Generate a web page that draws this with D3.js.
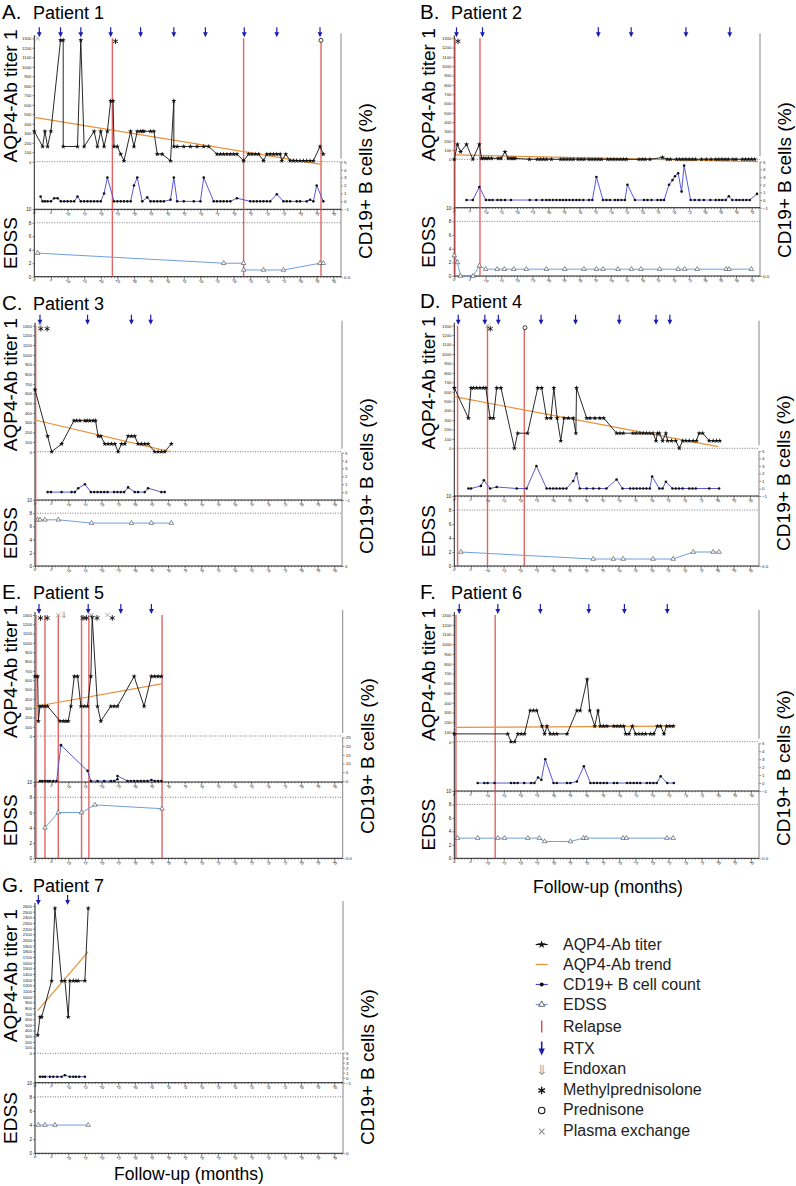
<!DOCTYPE html>
<html><head><meta charset="utf-8">
<script src="https://cdn.jsdelivr.net/npm/d3@7"></script>
<style>body{margin:0;background:#fff}svg{display:block}</style>
</head><body>
<svg id="chart" width="796" height="1186"></svg>
<script>
// ---------------- DATA ----------------
const titerLabel = "AQP4-Ab titer 1", edssLabel = "EDSS", cdLabel = "CD19+ B cells (%)", xLabel = "Follow-up (months)";
const legendLabels = ["AQP4-Ab titer","AQP4-Ab trend","CD19+ B cell count","EDSS","Relapse","RTX","Endoxan","Methylprednisolone","Prednisone","Plasma exchange"];
const edssTicks = [0,2,4,6,8,10];
const cdTicksSmall = [-1,0,1,2,3,4,5];
const cdTicksLarge = [0,5,10,15,20,25];

// Patient 1
const p1Titer = [[0,320],[2.5,160],[3.2,320],[4,160],[5,320],[7.9,1280],[8.7,1280],[8.7,160],[13,160],[14,1280],[15,160],[18,320],[19,160],[20,320],[21,160],[22,320],[23,640],[23.7,640],[24,160],[25,160],[26,80],[27,10],[29,320],[30,160],[31,320],[32,320],[32.5,320],[33,320],[35,320],[36,320],[37,80],[38.5,80],[41,10],[42,640],[42,160],[43,160],[45,160],[47,160],[49,160],[51,160],[52.5,160],[55,80],[56,80],[57,80],[58,80],[59,80],[60,80],[61,80],[63,10],[64.5,80],[65.5,80],[66.5,80],[67.5,80],[69,10],[70,80],[71,80],[72,80],[73,80],[74,80],[74.5,10],[75.7,80],[77,10],[78,10],[79,10],[80,10],[81,10],[82,10],[83,10],[84,10],[86,160],[87,80]];
const p1CD19 = [[1.9,0.6],[2.5,0],[3.2,0],[4,0],[5,0],[6,0.4],[7,0.4],[8,0],[9,0],[10,0],[11,0],[12,0],[13,0.6],[14,0],[15,0],[16,0],[17,0],[18,0],[19,0],[20,0],[21,1],[22,3],[24,0],[25,0],[26,0],[27,0],[28,0],[29,0],[30,2],[31,3],[32.5,0],[34,0.5],[35,0],[36,0],[37,0],[38,0],[39,0],[41,0.2],[42,3],[43,0],[45,0],[48,0],[50,0],[51,3],[54,0],[55,0],[56,0],[57,0],[58,0],[59,0],[61,0.4],[65,0],[66,0],[67,0],[68,0],[69,0],[70,0],[71,0],[73,0.9],[75,0],[76,0],[77,0],[79,0],[80,0],[82,0],[83,0.2],[84,0],[85,2],[87,0]];
const p1EDSS = [[1,3.5],[57,2],[63,2],[63,1],[69,1],[75,1],[86,2],[87,2]];
const p1Trend = [[0,467],[86.3,-28]];
const p1RTX = [1.5,7.9,14,23,32,42,51.5,63.2,73,86];
const p1Relapse = [23.5,63,86.3];
const p1MP = [24], p1Pred = [86.3], p1PE = [1], p1Endo = [];

// Patient 2
const p2Titer = [[0,0],[1,160],[2,80],[3.9,160],[5.9,0],[8,160],[8.7,10],[9.3,10],[10.1,10],[10.9,10],[11.9,10],[14,10],[14.9,10],[16.2,80],[17.2,10],[18.1,10],[18.8,10],[19.4,10],[24,0],[26.5,0],[27.5,0],[28.5,0],[29.5,0],[31,0],[34,0],[35,0],[36,0],[37,0],[38,0],[39.5,0],[40.5,0],[41.5,0],[43,0],[44,0],[45,0],[46,0],[47,0],[49,0],[50,0],[51,0],[52,0],[53,0],[54,0],[55,0],[59,0],[60,0],[61,0],[62.5,0],[66.5,20],[68,0],[69,0],[71,0],[72,0],[73,0],[74,0],[75,0],[76,0],[77,0],[79,0],[80.5,0],[82,0],[83.5,0],[84.5,0],[85.5,0],[86.5,0],[87.5,0],[89,0],[90,0],[92,0],[93,0],[94,0],[95,0],[96,0]];
const p2CD19 = [[3.9,0],[5.9,0],[8,1.7],[10.1,0],[11.2,0],[12.2,0],[13.8,0],[14.9,0],[16.2,0],[18.1,0],[24.1,0],[26.2,0],[28.1,0],[29.4,0],[30.4,0],[31.5,0],[32.6,0],[33.7,0],[34.7,0],[35.7,0],[36.8,0],[37.9,0],[39,0],[40,0],[41.2,0],[43,0],[44.1,0],[45.4,3],[47.5,0],[48.6,0],[49.7,0],[51.3,0],[52.3,0],[53.4,0],[54.5,0],[55.3,2],[57.7,0],[60.6,0],[61.7,0],[63,0],[64.9,0],[66,0],[67,0],[68.6,2],[69.7,2.6],[70.5,3.1],[71.5,3.5],[72.6,1.1],[73.4,4.5],[75.5,0],[76.8,0],[78.2,0],[79.7,0],[81.8,0],[83.5,0],[84.6,0],[85.6,0],[86.7,0],[87.7,0.5],[88.8,0],[90.1,0],[91.1,0],[92.2,0],[93.3,0],[94.4,0],[96.7,0.8]];
const p2EDSS = [[0,3],[1,2],[2,0],[6,0],[8,1.5],[10,1],[13.7,1],[16,1],[19,1],[23,1],[29.4,1],[35.3,1],[41.4,1],[45.4,1],[47.5,1],[52.3,1],[56.6,1],[59.6,1],[65.6,1],[71.5,1],[73.6,1],[77.6,1],[86.9,1],[87.8,1],[94.9,1]];
const p2Trend = [[0,47],[97,-25]];
const p2RTX = [0.7,9,46,56.5,74,88];
const p2Relapse = [0.2,8.2];
const p2MP = [0.7], p2Pred = [], p2PE = [], p2Endo = [];

// Patient 3
const p3Titer = [[0,640],[3.8,160],[5,0],[8,80],[11.7,320],[12.5,320],[13.5,320],[15,320],[15.7,320],[16.5,320],[17.5,320],[18.2,320],[19,160],[19.8,160],[21,80],[22,80],[23,80],[24,80],[25,0],[26,80],[27,80],[28,160],[29,160],[30,160],[31,80],[32,80],[33,80],[34,80],[36,0],[37,0],[38,0],[39,0],[41,80]];
const p3CD19 = [[3.8,0],[4.8,0],[8,0],[11,0],[12,0],[13,0.5],[15,1],[16.8,0],[17.8,0],[18.8,0],[19.8,0],[20.8,0],[21.8,0],[23.8,0],[24.8,0],[25.8,0],[26.8,0],[28,0.6],[30,0],[31,0],[33,0],[34,0.5],[38,0],[39,0]];
const p3EDSS = [[0.8,7],[1.5,7],[3,7],[7,7],[17,6.5],[29,6.5],[35,6.5],[41,6.5]];
const p3Trend = [[0,327],[40.5,0]];
const p3RTX = [1.5,15.8,29,34.8];
const p3Relapse = [0.2];
const p3MP = [1.3,3.2], p3Pred = [], p3PE = [1.5], p3Endo = [];

// Patient 4
const p4Titer = [[0,640],[4.3,320],[5.1,640],[5.8,640],[6.8,640],[7.8,640],[8.8,640],[9.6,640],[10.9,320],[11.9,320],[12.9,640],[14.2,640],[18.3,0],[19.3,160],[22.3,160],[25.4,640],[26.6,640],[28.1,320],[29.4,320],[30.3,640],[31.3,320],[32.4,80],[33.4,320],[34.7,320],[36.2,320],[37,160],[37.2,640],[40.3,320],[41.3,320],[42.8,320],[44.3,320],[45.5,320],[49.4,160],[50.4,160],[51.4,160],[54.4,160],[55.4,160],[56.5,160],[57.5,160],[58.5,160],[59.5,160],[60.5,160],[61.4,80],[61.8,160],[62.4,160],[63.4,80],[64.4,160],[64.9,80],[66.1,80],[67.4,80],[68.5,0],[69.5,80],[70.5,80],[71.5,80],[72.7,80],[73.7,80],[74.5,160],[75.6,160],[77.6,80],[78.8,80],[79.8,80],[80.8,80]];
const p4CD19 = [[4.3,0],[5.1,0],[8.1,0.35],[9,1.1],[10.9,0],[12.9,0.2],[19,0],[22,0],[25,3],[28.1,0],[29.1,0],[30.1,0],[31.1,0],[32.1,0],[33.1,0],[34.1,0],[36.2,1],[37.2,2],[38.2,0],[40.3,0],[42.3,0],[44.1,0],[46.3,0],[49.4,1.2],[51.2,0],[53.5,0],[54.5,0],[55.5,0],[56.5,0],[57.5,0],[58.5,0],[59.5,0],[60.2,1.6],[62.4,0],[63.4,0],[64.4,0.9],[66.4,0],[67.4,0],[68.4,0],[69.5,0],[71.5,0],[72.5,0],[73.5,0],[77.6,0],[80.6,0]];
const p4EDSS = [[2,2],[42.3,1],[48.4,1],[51.4,1],[60.5,1],[66.6,1],[72.7,2],[78.8,2],[80.6,2]];
const p4Trend = [[0,547],[80.3,18]];
const p4RTX = [1.2,9.3,13.4,26.4,36.9,50.2,61.4,65.6];
const p4Relapse = [1,10.1,21.3];
const p4MP = [10.5], p4Pred = [21.5], p4PE = [10.2], p4Endo = [];

// Patient 5
const p5Titer = [[0,640],[0.8,640],[1,160],[1.5,320],[2.2,320],[3,320],[3.8,320],[7.5,160],[8.5,160],[9.3,160],[10,160],[10.8,320],[11.8,640],[12.8,640],[13.8,320],[14.8,320],[15.8,320],[16.8,640],[17.2,1280],[18.8,320],[19.8,160],[22.8,320],[23.8,320],[24.8,320],[29.8,640],[32.8,320],[35,640],[36,640],[37,640],[38,640]];
const p5CD19 = [[1.5,0],[2.2,0],[3,0],[3.8,0],[4.5,0],[5.5,0],[6.5,0],[7.8,20.5],[15.8,5.8],[16.8,0],[18.8,0],[20.8,0],[22.8,0],[23.8,0],[24.8,1],[24.8,2.9],[27.8,0],[28.8,0],[29.8,0],[30.8,0],[31.8,0],[32.8,0],[33.8,0],[35,0.6],[36,0],[37,0],[38,0]];
const p5EDSS = [[3,4],[7,6],[14,6],[18,7],[38.2,6.5]];
const p5Trend = [[0,317],[38,560]];
const p5RTX = [1.2,16,25.8,35];
const p5Relapse = [0.3,3,7,14,16.2,38.2];
const p5MP = [1.2,3.2,14,15,18.2,22.8], p5Pred = [], p5PE = [7,16.8,21.8], p5Endo = [8.8];

// Patient 6
const p6Titer = [[0,80],[16.2,80],[17.2,0],[18.3,0],[19.3,80],[20.3,80],[21.3,80],[23,320],[24,320],[25,320],[26.6,160],[27.4,80],[28.1,160],[29.1,80],[30.1,80],[31.1,80],[34.2,80],[37.2,320],[38.2,320],[40.3,640],[41.1,320],[42.6,160],[43.6,320],[44.3,160],[45.3,160],[46.3,160],[48.4,160],[49.4,160],[50.4,160],[51.4,160],[52,80],[53,80],[54,160],[55,80],[56,80],[57,80],[58,80],[59.5,80],[60.5,80],[61.6,160],[62.6,160],[63.6,80],[64.4,160],[65.4,160],[66.4,160]];
const p6CD19 = [[7.1,0],[9.1,0],[10.1,0],[12.2,0],[17.2,0],[18.2,0],[19.2,0],[21.2,0],[23.3,0],[24.3,0],[25.4,0.7],[26.4,0.4],[27.6,3],[30.1,0],[31.1,0],[34.2,0],[35.2,0],[37.2,0.2],[39.3,2.1],[41.3,0],[42.3,0],[43.3,0],[44.3,0],[45.3,0],[46.3,0],[48.4,0],[49.4,0],[52.4,0],[53.4,0],[54.4,0],[55.4,0],[56.4,0],[58.4,0],[59.4,0],[60.4,0],[61.4,0],[62.6,0.85],[64.6,0],[66.6,0]];
const p6EDSS = [[1,3],[7.1,3],[13.2,3],[15.2,3],[22.3,3],[25.8,3],[27.4,2.5],[35.2,2.5],[39.2,3],[40,3],[51.2,3],[52.2,3],[64.5,3],[66.4,3]];
const p6Trend = [[0,146],[67,160]];
const p6RTX = [1.5,13.2,26.1,40.8,51.6,64.6];
const p6Relapse = [0.5,12.4];
const p6MP = [], p6Pred = [], p6PE = [], p6Endo = [];

// Patient 7
const p7Titer = [[0.8,320],[1.5,640],[2,640],[5,1280],[6,2560],[8,1280],[9,1280],[10,640],[10.5,1280],[11.5,1280],[12.3,1280],[13,1280],[15,1280],[16,2560]];
const p7CD19 = [[1.5,0.2],[2.3,0.2],[3,0.2],[4.5,0.2],[5.5,0.2],[6.7,0.2],[8,0.2],[9,0.5],[10.5,0.2],[11.5,0.2],[12.3,0.2],[13.3,0.2],[15,0.2]];
const p7EDSS = [[1,4],[3,4],[6,4],[16,4]];
const p7Trend = [[0.8,753],[16,1793]];
const p7RTX = [1,9.8];
const p7Relapse = [];
const p7MP = [], p7Pred = [], p7PE = [], p7Endo = [];

// ---------------- LAYOUT ----------------
const FONT = "'Liberation Sans', Arial, Helvetica, sans-serif";
const panels = [
  {letter:"A.", name:"Patient 1", titer:p1Titer, cd:p1CD19, edss:p1EDSS, trend:p1Trend, rtx:p1RTX, relapse:p1Relapse, mp:p1MP, pred:p1Pred, pe:p1PE, endo:p1Endo,
   L:{xLab:90,x0:34.3,x1:333.3,right:341,tMax:1300,tTop:38.3,t0:161.7,cDom:[-1,5],cTicks:cdTicksSmall,cTop:161.7,cBot:209.3,eTop:209.3,e0:276.7,tx:2,ty:19,cdLabY:181,zero:"0.0"}},
  {letter:"B.", name:"Patient 2", titer:p2Titer, cd:p2CD19, edss:p2EDSS, trend:p2Trend, rtx:p2RTX, relapse:p2Relapse, mp:p2MP, pred:p2Pred, pe:p2PE, endo:p2Endo,
   L:{xLab:95,x0:454.3,x1:751.7,right:760,tMax:1300,tTop:38.3,t0:159.3,cDom:[-1,5],cTicks:cdTicksSmall,cTop:161.7,cBot:207.7,eTop:207.7,e0:276,tx:420,ty:19,cdLabY:180,zero:"0.0"}},
  {letter:"C.", name:"Patient 3", titer:p3Titer, cd:p3CD19, edss:p3EDSS, trend:p3Trend, rtx:p3RTX, relapse:p3Relapse, mp:p3MP, pred:p3Pred, pe:p3PE, endo:p3Endo,
   L:{xLab:90,x0:35,x1:334.3,right:342,tMax:1300,tTop:325.7,t0:451.7,cDom:[-1,5],cTicks:cdTicksSmall,cTop:452.7,cBot:500,eTop:500,e0:566,tx:2,ty:310,cdLabY:476,zero:"0"}},
  {letter:"D.", name:"Patient 4", titer:p4Titer, cd:p4CD19, edss:p4EDSS, trend:p4Trend, rtx:p4RTX, relapse:p4Relapse, mp:p4MP, pred:p4Pred, pe:p4PE, endo:p4Endo,
   L:{xLab:90,x0:454.3,x1:750,right:759,tMax:1300,tTop:325.7,t0:448.3,cDom:[-1,5],cTicks:cdTicksSmall,cTop:451,cBot:496,eTop:496,e0:566,tx:420,ty:308,cdLabY:473,zero:"0.0"}},
  {letter:"E.", name:"Patient 5", titer:p5Titer, cd:p5CD19, edss:p5EDSS, trend:p5Trend, rtx:p5RTX, relapse:p5Relapse, mp:p5MP, pred:p5Pred, pe:p5PE, endo:p5Endo,
   L:{xLab:90,x0:35,x1:334.3,right:342.7,tMax:1300,tTop:615,t0:736,cDom:[0,25],cTicks:cdTicksLarge,cTop:737.3,cBot:781,eTop:782,e0:858.3,tx:2,ty:599,cdLabY:756,zero:"0.0"}},
  {letter:"F.", name:"Patient 6", titer:p6Titer, cd:p6CD19, edss:p6EDSS, trend:p6Trend, rtx:p6RTX, relapse:p6Relapse, mp:p6MP, pred:p6Pred, pe:p6PE, endo:p6Endo,
   L:{xLab:90,x0:454.3,x1:751,right:759,tMax:1300,tTop:615,t0:741.7,cDom:[-1,5],cTicks:cdTicksSmall,cTop:743.3,cBot:791,eTop:791,e0:858.3,tx:420,ty:599,cdLabY:768,zero:"0.0",xTitle:[608,893]}},
  {letter:"G.", name:"Patient 7", titer:p7Titer, cd:p7CD19, edss:p7EDSS, trend:p7Trend, rtx:p7RTX, relapse:p7Relapse, mp:p7MP, pred:p7Pred, pe:p7PE, endo:p7Endo,
   L:{xLab:90,x0:35,x1:334.3,right:343,tMax:2600,tTop:906,t0:1053.3,cDom:[-1,5],cTicks:cdTicksSmall,cTop:1052.7,cBot:1082.7,eTop:1082.7,e0:1153.3,tx:2,ty:892,cdLabY:1067,zero:"0",xTitle:[189,1180]}}
];

const C = {titer:"#111", trend:"#e8913a", cd:"#4646d8", edss:"#6f9fe0", relapse:"#dd4a4a", rtx:"#1c1cb0", axis:"#222", raxis:"#888", dot:"#555"};
const fmt = d3.format("d");

const svg = d3.select("#chart").attr("font-family", FONT);

const starPath = d3.symbol().type(d3.symbolStar).size(8)();
const triPath = d3.symbol().type(d3.symbolTriangle).size(9)();
const astPath = d3.symbol().type(d3.symbolAsterisk).size(22)();
const timesPath = d3.symbol().type(d3.symbolTimes).size(16)();

function styleAxis(a, fs) {
  a.attr("font-family", FONT).attr("font-size", fs);
  a.select(".domain").remove();
  a.selectAll(".tick line").attr("stroke", C.axis).attr("stroke-width", 0.5);
  a.selectAll("text").attr("fill", "#222");
}

function drawPanel(p) {
  const L = p.L;
  const g = svg.append("g");
  const x = d3.scaleLinear().domain([0, L.xLab]).range([L.x0, L.x1]);
  const xEnd = x.invert(L.right);
  const yT = d3.scaleLinear().domain([0, L.tMax]).range([L.t0, L.tTop]);
  const yC = d3.scaleLinear().domain(L.cDom).range([L.cBot, L.cTop]);
  const yE = d3.scaleLinear().domain([0, 10]).range([L.e0, L.eTop]);

  // Titles
  g.append("text").attr("x", L.tx).attr("y", L.ty).attr("font-size", 20.5).text(p.letter);
  g.append("text").attr("x", L.tx + 31).attr("y", L.ty).attr("font-size", 18).text(p.name);

  // Axis titles
  g.append("text").attr("transform", `translate(${L.tx + 15},${(L.tTop + L.t0) / 2 - 4}) rotate(-90)`)
    .attr("text-anchor", "middle").attr("font-size", 19).text(titerLabel);
  g.append("text").attr("transform", `translate(${L.tx + 15},${(L.eTop + L.e0) / 2}) rotate(-90)`)
    .attr("text-anchor", "middle").attr("font-size", 19).text(edssLabel);
  g.append("text").attr("transform", `translate(${L.right + 31},${L.cdLabY}) rotate(-90)`)
    .attr("text-anchor", "middle").attr("font-size", 19).text(cdLabel);
  if (L.xTitle) g.append("text").attr("x", L.xTitle[0]).attr("y", L.xTitle[1]).attr("text-anchor", "middle").attr("font-size", 17.5).text(xLabel);

  // Left axes
  const aT = g.append("g").attr("transform", `translate(${L.x0},0)`)
    .call(d3.axisLeft(yT).tickValues(d3.range(0, L.tMax + 1, 100)).tickFormat(fmt).tickSize(2).tickPadding(1));
  styleAxis(aT, 4.2);
  const aE = g.append("g").attr("transform", `translate(${L.x0},0)`)
    .call(d3.axisLeft(yE).tickValues(edssTicks).tickFormat(fmt).tickSize(2).tickPadding(1));
  styleAxis(aE, 4.6);
  // Right axes
  const aC = g.append("g").attr("transform", `translate(${L.right},0)`)
    .call(d3.axisRight(yC).tickValues(L.cTicks).tickFormat(fmt).tickSize(2).tickPadding(1));
  styleAxis(aC, 4.4);
  const aZ = g.append("g").attr("transform", `translate(${L.right},0)`)
    .call(d3.axisRight(yE).tickValues([0]).tickFormat(() => L.zero).tickSize(2).tickPadding(1));
  styleAxis(aZ, 4.4);

  // Axis lines
  g.append("line").attr("x1", L.x0).attr("x2", L.x0).attr("y1", L.tTop - 3).attr("y2", L.e0).attr("stroke", C.axis).attr("stroke-width", 1);
  g.append("line").attr("x1", L.right).attr("x2", L.right).attr("y1", L.tTop - 5).attr("y2", L.t0 - 3).attr("stroke", C.raxis).attr("stroke-width", 1);
  g.append("line").attr("x1", L.right).attr("x2", L.right).attr("y1", L.cTop).attr("y2", L.e0).attr("stroke", C.raxis).attr("stroke-width", 1);

  // X axes (two)
  [L.eTop, L.e0].forEach(yy => {
    g.append("line").attr("x1", L.x0).attr("x2", L.right).attr("y1", yy).attr("y2", yy).attr("stroke", C.axis).attr("stroke-width", 1);
    const mn = g.append("g").attr("transform", `translate(0,${yy})`)
      .call(d3.axisBottom(x).tickValues(d3.range(0, xEnd, 1)).tickSize(1.3).tickFormat(""));
    styleAxis(mn, 4);
    const mj = g.append("g").attr("transform", `translate(0,${yy})`)
      .call(d3.axisBottom(x).tickValues(d3.range(0, L.xLab + 1, 5)).tickFormat(fmt).tickSize(2.2));
    styleAxis(mj, 4);
    mj.selectAll("text").attr("y", 3).attr("x", 1).attr("dy", "0.3em").attr("text-anchor", "start").attr("transform", "rotate(45)");
  });

  // Dotted reference lines
  [yT(0), yE(8)].forEach(yy => {
    g.append("line").attr("x1", L.x0).attr("x2", L.right).attr("y1", yy).attr("y2", yy)
      .attr("stroke", C.dot).attr("stroke-width", 0.8).attr("stroke-dasharray", "1,1.5");
  });

  // Relapse lines
  g.selectAll(".rel").data(p.relapse).join("line")
    .attr("x1", d => x(d)).attr("x2", d => x(d)).attr("y1", yT(L.tMax)).attr("y2", L.e0)
    .attr("stroke", C.relapse).attr("stroke-width", 1.4).attr("opacity", 0.85);

  // Trend
  g.append("path").datum(p.trend).attr("d", d3.line().x(d => x(d[0])).y(d => yT(d[1])))
    .attr("fill", "none").attr("stroke", C.trend).attr("stroke-width", 1.2);

  // Titer
  g.append("path").datum(p.titer).attr("d", d3.line().x(d => x(d[0])).y(d => yT(d[1])))
    .attr("fill", "none").attr("stroke", C.titer).attr("stroke-width", 0.9);
  g.selectAll(".tm").data(p.titer).join("path").attr("d", starPath)
    .attr("transform", d => `translate(${x(d[0])},${yT(d[1])})`).attr("fill", "#111");

  // CD19
  g.append("path").datum(p.cd).attr("d", d3.line().x(d => x(d[0])).y(d => yC(d[1])))
    .attr("fill", "none").attr("stroke", C.cd).attr("stroke-width", 0.9);
  g.selectAll(".cm").data(p.cd).join("circle").attr("cx", d => x(d[0])).attr("cy", d => yC(d[1]))
    .attr("r", 1.3).attr("fill", "#111");

  // EDSS
  g.append("path").datum(p.edss).attr("d", d3.line().x(d => x(d[0])).y(d => yE(d[1])))
    .attr("fill", "none").attr("stroke", C.edss).attr("stroke-width", 1);
  g.selectAll(".em").data(p.edss).join("path").attr("d", triPath)
    .attr("transform", d => `translate(${x(d[0])},${yE(d[1])})`).attr("fill", "#fff").attr("stroke", "#222").attr("stroke-width", 0.5);

  // RTX arrows
  const ay = L.tTop;
  p.rtx.forEach(m => {
    const ax = x(m);
    g.append("line").attr("x1", ax).attr("x2", ax).attr("y1", ay - 11).attr("y2", ay - 5).attr("stroke", C.rtx).attr("stroke-width", 1.2);
    g.append("path").attr("d", `M${ax - 2.4},${ay - 6}L${ax + 2.4},${ay - 6}L${ax},${ay - 1}Z`).attr("fill", C.rtx);
  });

  // Treatment markers
  const my = L.tTop + 3;
  p.mp.forEach(m => g.append("path").attr("d", astPath).attr("transform", `translate(${x(m) + 1.5},${my})`).attr("fill", "none").attr("stroke", "#111").attr("stroke-width", 0.9));
  p.pred.forEach(m => g.append("circle").attr("cx", x(m)).attr("cy", my - 1).attr("r", 2).attr("fill", "#fff").attr("stroke", "#111").attr("stroke-width", 0.8));
  p.pe.forEach(m => g.append("path").attr("d", timesPath).attr("transform", `translate(${x(m)},${my - 3})`).attr("fill", "none").attr("stroke", "#999").attr("stroke-width", 0.8));
  p.endo.forEach(m => g.append("text").attr("x", x(m)).attr("y", my).attr("text-anchor", "middle").attr("font-size", 9).attr("fill", "#999").text("\u21D3"));
}

panels.forEach(drawPanel);

// ---------------- LEGEND ----------------
const legY = [950, 970, 990, 1010, 1032, 1054, 1074, 1095, 1115, 1136];
const lx = 541.7, tx = 563;
const lg = svg.append("g");
legendLabels.forEach((t, i) => {
  lg.append("text").attr("x", tx).attr("y", legY[i]).attr("font-size", 16).attr("fill", "#222").text(t);
});
const cy = i => legY[i] - 5.5;
lg.append("line").attr("x1", lx - 6).attr("x2", lx + 6).attr("y1", cy(0)).attr("y2", cy(0)).attr("stroke", "#111").attr("stroke-width", 1.2);
lg.append("path").attr("d", d3.symbol().type(d3.symbolStar).size(20)()).attr("transform", `translate(${lx},${cy(0)})`).attr("fill", "#111");
lg.append("line").attr("x1", lx - 6).attr("x2", lx + 6).attr("y1", cy(1)).attr("y2", cy(1)).attr("stroke", C.trend).attr("stroke-width", 1.3);
lg.append("line").attr("x1", lx - 6).attr("x2", lx + 6).attr("y1", cy(2)).attr("y2", cy(2)).attr("stroke", C.cd).attr("stroke-width", 1.2);
lg.append("circle").attr("cx", lx).attr("cy", cy(2)).attr("r", 2).attr("fill", "#111");
lg.append("line").attr("x1", lx - 6).attr("x2", lx + 6).attr("y1", cy(3)).attr("y2", cy(3)).attr("stroke", C.edss).attr("stroke-width", 1.2);
lg.append("path").attr("d", d3.symbol().type(d3.symbolTriangle).size(16)()).attr("transform", `translate(${lx},${cy(3)})`).attr("fill", "#fff").attr("stroke", "#222").attr("stroke-width", 0.7);
lg.append("line").attr("x1", lx).attr("x2", lx).attr("y1", cy(4) - 6).attr("y2", cy(4) + 6).attr("stroke", C.relapse).attr("stroke-width", 1.4);
lg.append("line").attr("x1", lx).attr("x2", lx).attr("y1", cy(5) - 7).attr("y2", cy(5) + 1).attr("stroke", C.rtx).attr("stroke-width", 1.6);
lg.append("path").attr("d", `M${lx - 3.2},${cy(5)}L${lx + 3.2},${cy(5)}L${lx},${cy(5) + 7}Z`).attr("fill", C.rtx);
lg.append("text").attr("x", lx).attr("y", legY[6] + 1).attr("text-anchor", "middle").attr("font-size", 14).attr("fill", "#999").text("\u21D3");
lg.append("path").attr("d", d3.symbol().type(d3.symbolAsterisk).size(40)()).attr("transform", `translate(${lx},${cy(7) + 1})`).attr("fill", "none").attr("stroke", "#111").attr("stroke-width", 1.3);
lg.append("circle").attr("cx", lx).attr("cy", cy(8) + 1).attr("r", 3.2).attr("fill", "#fff").attr("stroke", "#111").attr("stroke-width", 1.1);
lg.append("path").attr("d", d3.symbol().type(d3.symbolTimes).size(22)()).attr("transform", `translate(${lx},${cy(9) + 1})`).attr("fill", "none").attr("stroke", "#888").attr("stroke-width", 1.1);
</script>
</body></html>
